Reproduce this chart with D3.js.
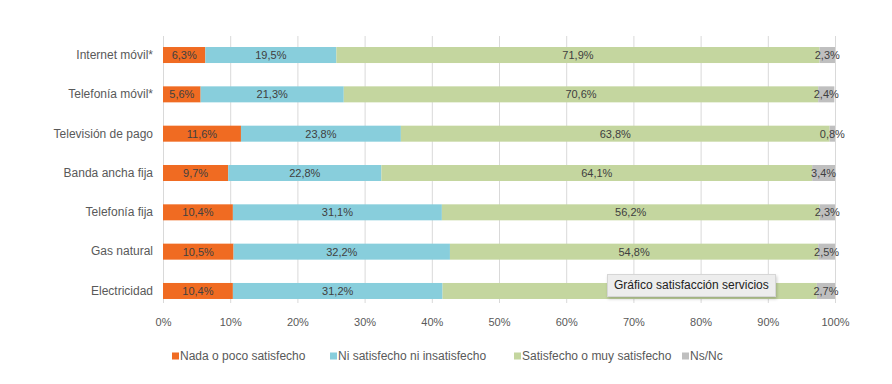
<!DOCTYPE html>
<html>
<head>
<meta charset="utf-8">
<script src="https://cdn.jsdelivr.net/npm/d3@7"></script>
<style>
  body { margin: 0; background: #fff; }
  svg { font-family: "Liberation Sans", Arial, sans-serif; }
  .tip { position: absolute; left: 607px; top: 274px; padding: 3px 6px 4px 6px; background: #ededed;
         border: 1px solid #d6d6d6; box-shadow: 1px 2px 3px rgba(0,0,0,0.2);
         font: 12px "Liberation Sans", Arial, sans-serif; color: #222; white-space: nowrap; }
</style>
</head>
<body>
<svg width="892" height="384"></svg>
<div class="tip">Gráfico satisfacción servicios</div>
<script>
// Data (percentages)
var categories = ["Internet móvil*", "Telefonía móvil*", "Televisión de pago", "Banda ancha fija",
                  "Telefonía fija", "Gas natural", "Electricidad"];
var nada     = [6.3, 5.6, 11.6, 9.7, 10.4, 10.5, 10.4];
var ni       = [19.5, 21.3, 23.8, 22.8, 31.1, 32.2, 31.2];
var satis    = [71.9, 70.6, 63.8, 64.1, 56.2, 54.8, 55.7];
var nsnc     = [2.3, 2.4, 0.8, 3.4, 2.3, 2.5, 2.7];
var seriesNames = ["Nada o poco satisfecho", "Ni satisfecho ni insatisfecho",
                   "Satisfecho o muy satisfecho", "Ns/Nc"];
var xTicks = [0, 10, 20, 30, 40, 50, 60, 70, 80, 90, 100];

var colors = ["#f06b22", "#88cedc", "#c4d69f", "#bfbfbf"];
var svg = d3.select("svg");

// rows built from the arrays
var rows = categories.map(function(c, i) {
  return {cat: c, nada: nada[i], ni: ni[i], satis: satis[i], nsnc: nsnc[i]};
});
var keys = ["nada", "ni", "satis", "nsnc"];
var stacked = d3.stack().keys(keys)(rows);

var x = d3.scaleLinear().domain([0, 100]).range([163, 835]);
var y = d3.scaleBand().domain(categories).range([23.7, 322.3]).paddingInner(0.593).paddingOuter(0.593);

// gridlines
svg.append("g").selectAll("line").data(xTicks).join("line")
  .attr("x1", function(d) { return x(d) + 0.5; })
  .attr("x2", function(d) { return x(d) + 0.5; })
  .attr("y1", 36).attr("y2", 303)
  .attr("stroke", "#d9d9d9").attr("stroke-width", 1);

// bars
var layer = svg.append("g").selectAll("g").data(stacked).join("g")
  .attr("fill", function(d, i) { return colors[i]; });
layer.selectAll("rect").data(function(d) { return d; }).join("rect")
  .attr("x", function(d) { return x(d[0]); })
  .attr("width", function(d) { return x(d[1]) - x(d[0]); })
  .attr("y", function(d) { return y(d.data.cat); })
  .attr("height", y.bandwidth());

// value labels
var fmt = function(v) { return v.toFixed(1).replace(".", ",") + "%"; };
var lab = svg.append("g").selectAll("g").data(stacked).join("g");
lab.selectAll("text").data(function(d) { return d; }).join("text")
  .attr("x", function(d) { return (x(d[0]) + x(d[1])) / 2; })
  .attr("y", function(d) { return y(d.data.cat) + y.bandwidth() / 2; })
  .attr("dy", "0.35em")
  .attr("text-anchor", "middle")
  .attr("font-size", 11)
  .attr("fill", "#404040")
  .text(function(d) { return fmt(d[1] - d[0]); });

// category axis
var yAxis = d3.axisLeft(y).tickSize(0).tickPadding(10);
var gy = svg.append("g").attr("transform", "translate(" + 163 + ",0)").call(yAxis);
gy.select(".domain").remove();
gy.selectAll("text").attr("font-size", 12).attr("fill", "#595959")
  .attr("font-family", "Liberation Sans, Arial, sans-serif");

// x axis
var xAxis = d3.axisBottom(x).tickValues(xTicks).tickSize(0).tickPadding(13)
  .tickFormat(function(d) { return d + "%"; });
var gx = svg.append("g").attr("transform", "translate(0,305)").call(xAxis);
gx.select(".domain").remove();
gx.selectAll("text").attr("font-size", 11).attr("fill", "#595959")
  .attr("font-family", "Liberation Sans, Arial, sans-serif");

// legend
var legX = [172, 330, 514, 682];
var leg = svg.append("g").selectAll("g").data(seriesNames).join("g")
  .attr("transform", function(d, i) { return "translate(" + legX[i] + ",356)"; });
leg.append("rect").attr("x", 0).attr("y", -3.5).attr("width", 7).attr("height", 7)
  .attr("fill", function(d, i) { return colors[i]; });
leg.append("text").attr("x", 8).attr("dy", "0.35em")
  .attr("font-size", 12).attr("fill", "#595959")
  .text(function(d) { return d; });
</script>
</body>
</html>
